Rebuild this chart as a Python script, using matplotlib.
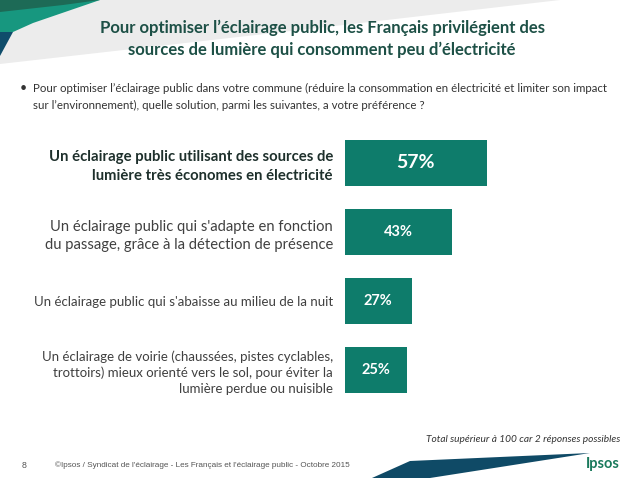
import matplotlib
matplotlib.use("Agg")
import matplotlib.pyplot as plt
from matplotlib.patches import Polygon

categories = [
    "Un éclairage public utilisant des sources de\nlumière très économes en électricité",
    "Un éclairage public qui s'adapte en fonction\ndu passage, grâce à la détection de présence",
    "Un éclairage public qui s'abaisse au milieu de la nuit",
    "Un éclairage de voirie (chaussées, pistes cyclables,\ntrottoirs) mieux orienté vers le sol, pour éviter la\nlumière perdue ou nuisible",
]
values = [57, 43, 27, 25]
value_labels = ["57%", "43%", "27%", "25%"]

title = "Pour optimiser l’éclairage public, les Français privilégient des\nsources de lumière qui consomment peu d’électricité"
question = ("Pour optimiser l’éclairage public dans votre commune (réduire la consommation en électricité et limiter son impact\n"
            "sur l’environnement), quelle solution, parmi les suivantes, a votre préférence ?")
note = "Total supérieur à 100 car 2 réponses possibles"
footer = "©Ipsos / Syndicat de l'éclairage - Les Français et l'éclairage public - Octobre 2015"

W, H = 638, 478
fig = plt.figure(figsize=(W / 100, H / 100), dpi=100)
fig.patch.set_facecolor("white")
FONT = "Lato"

def px(x, y):
    return (x / W, 1 - y / H)

def poly(pts, color, z=0):
    p = Polygon([px(x, y) for x, y in pts], closed=True, facecolor=color,
                edgecolor="none", transform=fig.transFigure, zorder=z)
    fig.add_artist(p)

# header decoration
poly([(0, 0), (560, 0), (300, 30), (0, 64)], "#ececec")
poly([(0, 0), (100, 0), (33, 23), (13, 32), (0, 32)], "#17977f")
poly([(0, 0), (100, 0), (63, 5), (0, 12)], "#1d6a56")
poly([(0, 32), (13, 32), (0, 56)], "#0f4d6b")
# footer ribbon
poly([(372, 478), (410, 461), (590, 453), (430, 478)], "#0f4a66")

# title
fig.text(322 / W, 1 - 38.5 / H, title, ha="center", va="center", fontsize=12.0,
         fontweight="bold", color="#1d5046", family=FONT, linespacing=1.45)
# question
fig.text(20 / W, 1 - 88 / H, "•", ha="left", va="center", fontsize=9, color="#333333", family=FONT)
fig.text(33 / W, 1 - 97 / H, question, ha="left", va="center", fontsize=8.3,
         color="#333333", family=FONT, linespacing=1.65)

# chart axes
left = 344.7
scale = 2.49
top_px, bot_px = 128.5, 404.5
ax = fig.add_axes([left / W, 1 - bot_px / H, 100 * scale / W, (bot_px - top_px) / H])
ypos = list(range(len(values)))
ax.barh(ypos, values, height=0.66, color="#0e7c6b")
ax.set_xlim(0, 100)
ax.set_ylim(3.5, -0.5)
ax.set_xticks([])
ax.set_yticks(ypos)
ax.set_yticklabels(categories, family=FONT, color="#404040", linespacing=1.3)
ax.tick_params(axis="y", length=0, pad=8.5)
tl = ax.get_yticklabels()
label_sizes = [10.7, 10.6, 9.5, 9.5]
label_spacing = [1.4, 1.42, 1.3, 1.33]
for t, s, ls in zip(tl, label_sizes, label_spacing):
    t.set_fontsize(s)
    t.set_linespacing(ls)
tl[0].set_fontweight("bold")
tl[0].set_color("#1e302c")
for s in ax.spines.values():
    s.set_visible(False)
ax.patch.set_alpha(0)
for i, (v, lab) in enumerate(zip(values, value_labels)):
    ax.text(v / 2, i, lab, ha="center", va="center", color="white", fontweight="bold",
            family=FONT, fontsize=14 if i == 0 else 10.5)

# note and footer
fig.text(620 / W, 1 - 440 / H, note, ha="right", va="center", fontsize=7.3,
         style="italic", color="#333333", family=FONT)
fig.text(22 / W, 1 - 465 / H, "8", ha="left", va="center", fontsize=6.3, color="#555555",
         family="Liberation Sans")
fig.text(55 / W, 1 - 465 / H, footer, ha="left", va="center", fontsize=5.9, color="#555555",
         family="Liberation Sans")
fig.text(620 / W, 1 - 464 / H, "Ipsos", ha="right", va="center", fontsize=10.5,
         fontweight="bold", color="#1a7a5c", family=FONT)

fig.savefig("out.png", dpi=100)
